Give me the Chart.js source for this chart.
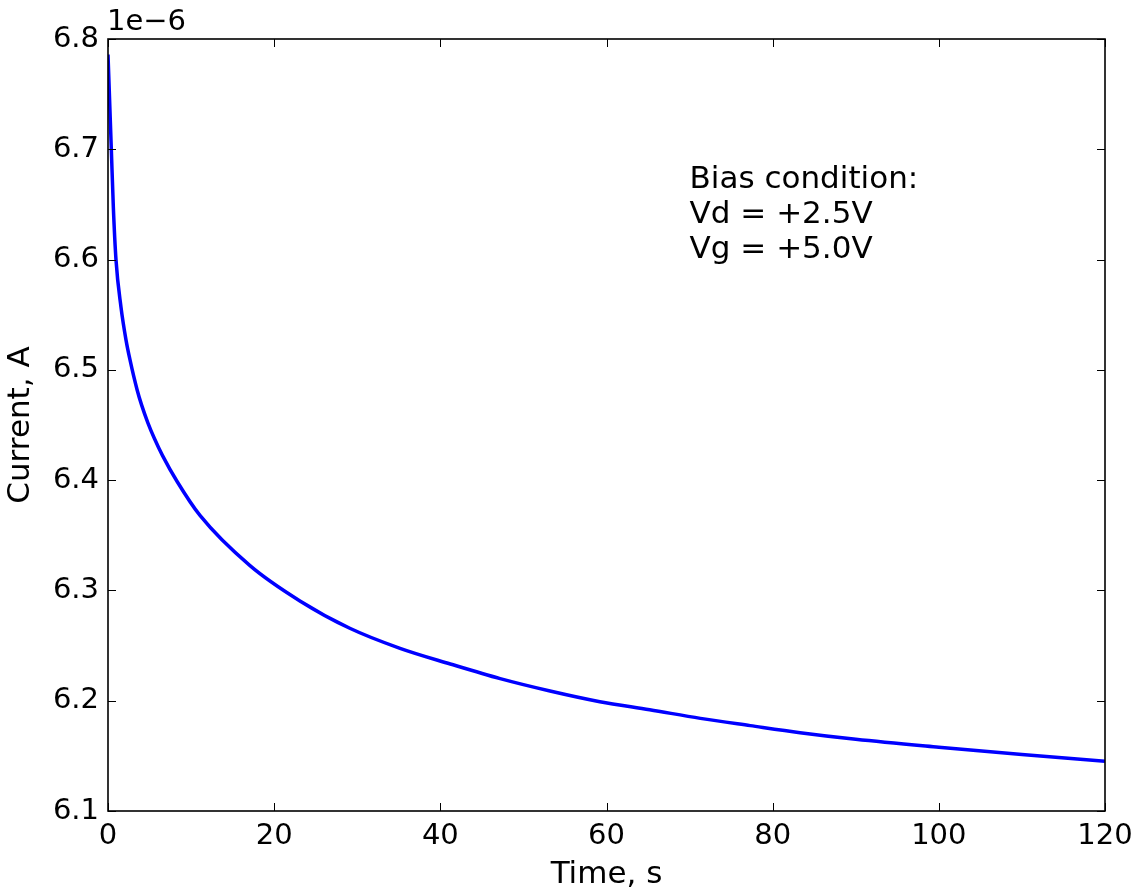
<!DOCTYPE html>
<html>
<head>
<meta charset="utf-8">
<script src="https://cdn.jsdelivr.net/npm/chart.js@4.4.1/dist/chart.umd.min.js"></script>
<style>
  html, body { margin: 0; padding: 0; background: #fff; }
  #wrap { width: 1144px; height: 892px; }
</style>
</head>
<body>
<div id="wrap"><canvas id="c" width="1144" height="892"></canvas></div>
<script>
// Time (s)
const timeS = [0, 0.4, 0.64, 0.96, 1.56, 2.17, 2.65, 3.5, 4.05, 4.8, 5.6, 6.55, 8.3, 11.07, 17.09, 23.1, 29.1, 35.15, 41.2, 47.2, 53.2, 59.2, 65.2, 71.3, 77.3, 83.3, 90, 100, 110, 120];
// Current (units of 1e-6 A)
const currentE6 = [6.786, 6.700, 6.648, 6.600, 6.557, 6.527, 6.509, 6.482, 6.468, 6.452, 6.4375, 6.4225, 6.399, 6.368, 6.3225, 6.2905, 6.2657, 6.2475, 6.2333, 6.2200, 6.2088, 6.1991, 6.1918, 6.1840, 6.1774, 6.1710, 6.1650, 6.1578, 6.1512, 6.1450];
const xTicks = [0, 20, 40, 60, 80, 100, 120];
const yTicks = [6.1, 6.2, 6.3, 6.4, 6.5, 6.6, 6.7, 6.8];
const offsetText = '1e\u22126';
const noteLines = ['Bias condition:', 'Vd = +2.5V', 'Vg = +5.0V'];
const noteAt = { x: 70, y: 6.6 };

const FONT = 'DejaVu Sans';
const TICK_FS = 29;
const LABEL_FS = 31;

const points = timeS.map((t, i) => ({ x: t, y: currentE6[i] }));

const framePlugin = {
  id: 'frame',
  afterDraw(chart) {
    const ctx = chart.ctx;
    const a = chart.chartArea;
    const xs = chart.scales.x, ys = chart.scales.y;
    ctx.save();
    ctx.strokeStyle = '#000';
    ctx.lineWidth = 1;
    const tl = 8;
    ctx.beginPath();
    xTicks.forEach(v => {
      const px = Math.round(xs.getPixelForValue(v)) + 0.5;
      ctx.moveTo(px, a.bottom); ctx.lineTo(px, a.bottom - tl);
      ctx.moveTo(px, a.top); ctx.lineTo(px, a.top + tl);
    });
    yTicks.forEach(v => {
      const py = Math.round(ys.getPixelForValue(v)) + 0.5;
      ctx.moveTo(a.left, py); ctx.lineTo(a.left + tl, py);
      ctx.moveTo(a.right, py); ctx.lineTo(a.right - tl, py);
    });
    ctx.stroke();
    ctx.lineWidth = 1.6;
    ctx.strokeRect(a.left, a.top, a.right - a.left, a.bottom - a.top);

    ctx.fillStyle = '#000';
    ctx.textAlign = 'left';
    ctx.textBaseline = 'alphabetic';
    ctx.font = TICK_FS + 'px "' + FONT + '"';
    ctx.fillText(offsetText, a.left - 1, a.top - 9);

    ctx.font = LABEL_FS + 'px "' + FONT + '"';
    const nx = xs.getPixelForValue(noteAt.x);
    const ny = ys.getPixelForValue(noteAt.y);
    const n = noteLines.length;
    noteLines.forEach((s, i) => {
      ctx.fillText(s, nx, ny - 2 - (n - 1 - i) * 35);
    });
    ctx.restore();
  }
};

new Chart(document.getElementById('c'), {
  type: 'line',
  data: {
    datasets: [{
      data: points,
      borderColor: '#0000ff',
      borderWidth: 3.5,
      pointRadius: 0,
      fill: false,
      cubicInterpolationMode: 'monotone'
    }]
  },
  options: {
    responsive: false,
    animation: false,
    events: [],
    layout: { padding: { left: 0, right: 39, top: 39, bottom: 0 } },
    plugins: { legend: { display: false }, tooltip: { enabled: false } },
    scales: {
      x: {
        type: 'linear',
        min: 0, max: 120,
        afterBuildTicks: s => { s.ticks = xTicks.map(v => ({ value: v })); },
        afterFit: s => { s.height = 81; },
        grid: { display: false, drawTicks: false },
        border: { display: false },
        ticks: { padding: 8, color: '#000', font: { family: FONT, size: TICK_FS }, maxRotation: 0, callback: v => String(v) },
        title: { display: true, text: 'Time, s', color: '#000', font: { family: FONT, size: LABEL_FS, lineHeight: 1.1 }, padding: { top: 0, bottom: 0 } }
      },
      y: {
        type: 'linear',
        min: 6.1, max: 6.8,
        afterBuildTicks: s => { s.ticks = yTicks.map(v => ({ value: v })); },
        afterFit: s => { s.width = 108; },
        grid: { display: false, drawTicks: false },
        border: { display: false },
        ticks: { padding: 9, color: '#000', font: { family: FONT, size: TICK_FS }, callback: v => v.toFixed(1) },
        title: { display: true, text: 'Current, A', color: '#000', font: { family: FONT, size: LABEL_FS, lineHeight: 1.1 }, padding: { top: 4, bottom: 0 } }
      }
    }
  },
  plugins: [framePlugin]
});
</script>
</body>
</html>
